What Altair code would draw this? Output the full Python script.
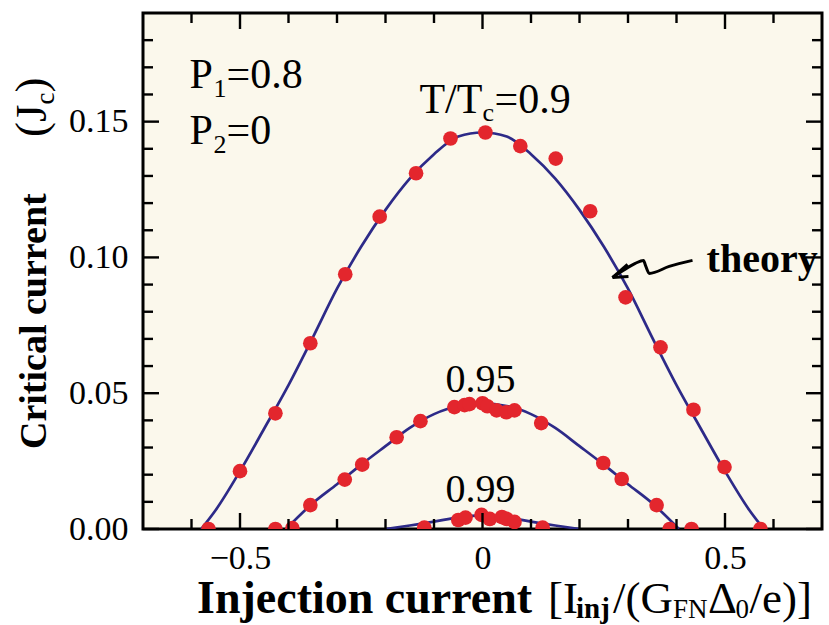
import altair as alt
import pandas as pd

# ---------------- data ----------------
# measured points (red)
x_090 = [-0.565, -0.500, -0.427, -0.355, -0.283, -0.212, -0.137, -0.066, 0.006,
         0.078, 0.151, 0.222, 0.295, 0.367, 0.435, 0.499, 0.573]
y_090 = [0.0, 0.0213, 0.0426, 0.0684, 0.0938, 0.115, 0.131, 0.1438, 0.146,
         0.141, 0.1364, 0.117, 0.0853, 0.0669, 0.0439, 0.0228, 0.0]

x_095 = [-0.427, -0.392, -0.355, -0.284, -0.248, -0.177, -0.128, -0.058, -0.037,
         -0.027, 0.0, 0.010, 0.029, 0.049, 0.066, 0.121, 0.249, 0.287, 0.359,
         0.386, 0.431]
y_095 = [0.0, 0.0003, 0.0088, 0.0182, 0.0237, 0.0338, 0.0397, 0.0449, 0.0456,
         0.046, 0.0463, 0.0452, 0.0437, 0.043, 0.0437, 0.0390, 0.0243, 0.0184,
         0.0088, 0.0, 0.0]

x_099 = [-0.120, -0.050, -0.035, -0.002, 0.015, 0.040, 0.050, 0.066, 0.124]
y_099 = [0.0005, 0.0033, 0.0042, 0.0052, 0.0037, 0.0044, 0.0037, 0.0026, 0.0005]

# theory curves (blue)
tx_090 = [-0.58, -0.55, -0.50, -0.45, -0.40, -0.35, -0.30, -0.25, -0.20, -0.15, -0.10, -0.05, 0.0,
          0.05, 0.10, 0.15, 0.20, 0.25, 0.30, 0.35, 0.40, 0.45, 0.50, 0.55, 0.58]
ty_090 = [0.0, 0.007, 0.0213, 0.037, 0.053, 0.0705, 0.0885, 0.104, 0.1175, 0.129, 0.138, 0.1445, 0.146,
          0.1445, 0.138, 0.129, 0.1175, 0.104, 0.0885, 0.0705, 0.053, 0.037, 0.0213, 0.007, 0.0]

tx_095 = [-0.405, -0.35, -0.30, -0.25, -0.20, -0.15, -0.10, -0.05, 0.0,
          0.05, 0.10, 0.15, 0.20, 0.25, 0.30, 0.35, 0.405]
ty_095 = [0.0, 0.0095, 0.0165, 0.0237, 0.0305, 0.0372, 0.0423, 0.0453, 0.0462,
          0.0453, 0.0423, 0.0372, 0.0305, 0.0237, 0.0165, 0.0095, 0.0]

tx_099 = [-0.20, -0.15, -0.10, -0.05, 0.0, 0.05, 0.10, 0.15, 0.20]
ty_099 = [0.0, 0.0013, 0.0027, 0.0043, 0.005, 0.0043, 0.0027, 0.0013, 0.0]

# axis ticks
x_major = [-0.5, 0.0, 0.5]
x_minor = [-0.6, -0.4, -0.3, -0.2, -0.1, 0.1, 0.2, 0.3, 0.4, 0.6]
y_major = [0.0, 0.05, 0.10, 0.15]
y_minor = [0.01, 0.02, 0.03, 0.04, 0.06, 0.07, 0.08, 0.09, 0.11, 0.12, 0.13, 0.14,
           0.16, 0.17, 0.18]

# "theory" arrow (data coords)
arrow_x = [0.433, 0.385, 0.344, 0.336, 0.332, 0.315, 0.290, 0.268]
arrow_y = [0.0989, 0.0967, 0.0941, 0.0971, 0.0989, 0.0978, 0.0952, 0.0926]
wing_x = [0.268, 0.268]
wing_y = [0.0926, 0.0926]
wing_x2 = [0.299, 0.301]
wing_y2 = [0.0974, 0.0930]

# ---------------- styling ----------------
W, H = 679, 516
FONT = "Liberation Serif"
RED = "#e3262d"
BLUE = "#2d2a88"
BG = "#fbf8ec"

xs = alt.Scale(domain=[-0.7, 0.7], nice=False, zero=False)
ys = alt.Scale(domain=[0, 0.19], nice=False, zero=False)

pts = pd.concat([
    pd.DataFrame({"x": x_090, "y": y_090, "s": "0.9"}),
    pd.DataFrame({"x": x_095, "y": y_095, "s": "0.95"}),
    pd.DataFrame({"x": x_099, "y": y_099, "s": "0.99"}),
])
th = pd.concat([
    pd.DataFrame({"x": tx_090, "y": ty_090, "s": "0.9"}),
    pd.DataFrame({"x": tx_095, "y": ty_095, "s": "0.95"}),
    pd.DataFrame({"x": tx_099, "y": ty_099, "s": "0.99"}),
])

xaxis = alt.Axis(values=x_major, ticks=False, tickSize=0, domain=False, grid=False,
                 labelFont=FONT, labelFontSize=34, labelColor="black", labelPadding=12,
                 labelExpr="datum.value == 0 ? '0' : (datum.value < 0 ? '\u2212' + format(-datum.value, '.1f') : format(datum.value, '.1f'))")
yaxis = alt.Axis(values=y_major, ticks=False, tickSize=0, domain=False, grid=False,
                 format=".2f", labelFont=FONT, labelFontSize=34, labelColor="black",
                 labelPadding=15)

lines = alt.Chart(th).mark_line(color=BLUE, strokeWidth=2.7, interpolate="monotone", clip=True).encode(
    x=alt.X("x:Q", scale=xs, axis=xaxis, title=""),
    y=alt.Y("y:Q", scale=ys, axis=yaxis, title=""),
    detail="s:N",
)
points = alt.Chart(pts).mark_circle(size=215, color=RED, opacity=1, clip=True).encode(
    x=alt.X("x:Q", scale=xs), y=alt.Y("y:Q", scale=ys)
)


def xticks(vals, length):
    d = pd.DataFrame({"v": vals})
    bot = alt.Chart(d).mark_rule(color="black", strokeWidth=2.4).encode(
        x=alt.X("v:Q", scale=xs), y=alt.value(H), y2=alt.value(H - length))
    top = alt.Chart(d).mark_rule(color="black", strokeWidth=2.4).encode(
        x=alt.X("v:Q", scale=xs), y=alt.value(0), y2=alt.value(length))
    return [bot, top]


def yticks(vals, length):
    d = pd.DataFrame({"v": vals})
    left = alt.Chart(d).mark_rule(color="black", strokeWidth=2.4).encode(
        y=alt.Y("v:Q", scale=ys), x=alt.value(0), x2=alt.value(length))
    right = alt.Chart(d).mark_rule(color="black", strokeWidth=2.4).encode(
        y=alt.Y("v:Q", scale=ys), x=alt.value(W), x2=alt.value(W - length))
    return [left, right]


one = pd.DataFrame({"a": [0]})


def ptxt(text, px, py, size, weight="normal", angle=0, align="left"):
    kw = dict(text=text, font=FONT, fontSize=size, fontWeight=weight, color="black",
              align=align, baseline="alphabetic")
    if angle:
        kw["angle"] = angle
    return alt.Chart(one).mark_text(**kw).encode(x=alt.value(px), y=alt.value(py))


def dtxt(text, x, y, size, weight="normal", dx=0, dy=0, align="left"):
    d = pd.DataFrame({"x": [x], "y": [y]})
    return alt.Chart(d).mark_text(text=text, font=FONT, fontSize=size, fontWeight=weight,
                                  color="black", align=align, baseline="alphabetic",
                                  dx=dx, dy=dy).encode(
        x=alt.X("x:Q", scale=xs), y=alt.Y("y:Q", scale=ys))


arrow = alt.Chart(pd.DataFrame({"x": arrow_x, "y": arrow_y})).mark_line(
    color="black", strokeWidth=3, interpolate="monotone").encode(
    x=alt.X("x:Q", scale=xs), y=alt.Y("y:Q", scale=ys))
wings = alt.Chart(pd.DataFrame({"x": wing_x, "y": wing_y, "x2": wing_x2, "y2": wing_y2})).mark_rule(
    color="black", strokeWidth=3).encode(
    x=alt.X("x:Q", scale=xs), y=alt.Y("y:Q", scale=ys), x2="x2:Q", y2="y2:Q")

annots = [
    dtxt("P", -0.604, 0.1625, 42),
    dtxt("1", -0.604, 0.1625, 26, dx=24, dy=9),
    dtxt("=0.8", -0.604, 0.1625, 42, dx=37),
    dtxt("P", -0.604, 0.1419, 42),
    dtxt("2", -0.604, 0.1419, 26, dx=24, dy=9),
    dtxt("=0", -0.604, 0.1419, 42, dx=37),
    dtxt("T/T", -0.130, 0.1533, 42),
    dtxt("c", -0.130, 0.1533, 26, dx=63, dy=8),
    dtxt("=0.9", -0.130, 0.1533, 42, dx=75),
    dtxt("0.95", -0.004, 0.0504, 40, align="center"),
    dtxt("0.99", -0.004, 0.0099, 40, align="center"),
    dtxt("theory", 0.462, 0.0945, 40, weight="bold"),
]

# axis titles (pixel positions relative to plot area)
titles = [
    ptxt("Injection current", 54, 600, 46, weight="bold"),
    ptxt("[I", 405, 600, 45),
    ptxt("inj", 433, 605, 29, weight="bold"),
    ptxt("/(G", 470, 600, 45),
    ptxt("FN", 530, 605, 27),
    ptxt("\u0394", 565, 600, 45),
    ptxt("0", 592.5, 605, 27),
    ptxt("/e)]", 606.5, 600, 45),
    ptxt("Critical current", -97, 436, 38, weight="bold", angle=270),
    ptxt("(J", -97, 124, 45, angle=270),
    ptxt("c", -89, 91.5, 27, angle=270),
    ptxt(")", -97, 79.5, 45, angle=270),
]

layers = [lines, points] + xticks(x_major, 16) + xticks(x_minor, 10) + \
    yticks(y_major, 16) + yticks(y_minor, 10) + [arrow, wings] + annots + titles

chart = alt.layer(*layers).properties(
    width=W, height=H,
    autosize=alt.AutoSizeParams(type="none"),
    padding={"left": 143, "top": 13, "right": 7, "bottom": 96},
    background="white",
).configure_view(fill=BG, stroke="black", strokeWidth=3)

chart.save("out.html", embed_options={"renderer": "svg", "actions": False})
